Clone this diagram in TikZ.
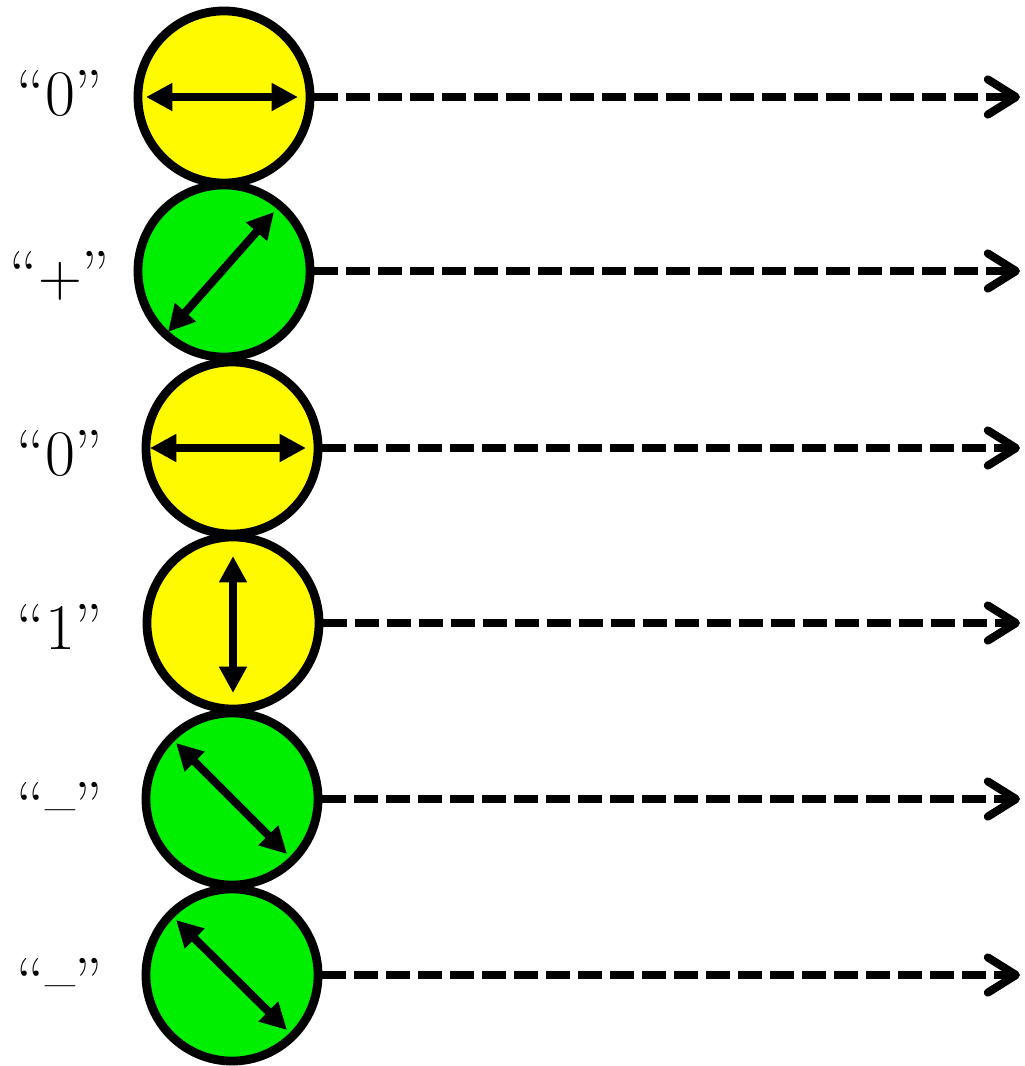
\documentclass[tikz,border=0pt]{standalone}
\usetikzlibrary{arrows.meta}
\definecolor{ballyellow}{RGB}{255,250,0}
\definecolor{ballgreen}{RGB}{0,238,0}
\begin{document}
\begin{tikzpicture}[
	x=0.01cm, y=-0.01cm,
	ball/.style={draw,circle,line width=2.5pt,minimum size=1.72cm,inner sep=0pt},
	lab/.style={anchor=base,inner sep=0pt,font=\fontsize{18.5}{22}\selectfont},
	pol/.style={line width=2.3pt,{Triangle[length=7.5pt,width=7.5pt]}-{Triangle[length=7.5pt,width=7.5pt]}},
	ray/.style={line width=2.2pt,dash pattern=on 6.6pt off 2.5pt,-{Straight Barb[length=8pt,width=10pt,line width=2.3pt,round]}}
	]
	\useasboundingbox (0,0) rectangle (1025,1066);
	\node[ball,fill=ballyellow]  (c1) at (224,97)  {};
	\node[ball,fill=ballgreen]  (c2) at (224,271)  {};
	\node[ball,fill=ballyellow]  (c3) at (232,448)  {};
	\node[ball,fill=ballyellow]  (c4) at (233,623)  {};
	\node[ball,fill=ballgreen]  (c5) at (232,799)  {};
	\node[ball,fill=ballgreen]  (c6) at (232,975)  {};
	\node[lab]  (l1) at (60,115)  {“0”};
	\node[lab]  (l2) at (60,296)  {“$+$”};
	\node[lab]  (l3) at (60,475)  {“0”};
	\node[lab]  (l4) at (60,649)  {“1”};
	\node[lab]  (l5) at (60,827)  {“–”};
	\node[lab]  (l6) at (60,1003)  {“–”};
	\coordinate  (e1) at (1020,97);
	\coordinate  (e2) at (1020,271);
	\coordinate  (e3) at (1020,448);
	\coordinate  (e4) at (1020,623);
	\coordinate  (e5) at (1020,799);
	\coordinate  (e6) at (1020,975);
	\path[draw,pol]  ([shift={(-78,0)}]c1.center) -- ([shift={(74,0)}]c1.center);
	\path[draw,pol]  ([shift={(-56,61)}]c2.center) -- ([shift={(50,-59)}]c2.center);
	\path[draw,pol]  ([shift={(-82,0)}]c3.center) -- ([shift={(74,0)}]c3.center);
	\path[draw,pol]  ([shift={(0,-67)}]c4.center) -- ([shift={(0,70)}]c4.center);
	\path[draw,pol]  ([shift={(-56,-56)}]c5.center) -- ([shift={(55,55)}]c5.center);
	\path[draw,pol]  ([shift={(-56,-55)}]c6.center) -- ([shift={(55,55)}]c6.center);
	\path[draw,ray]  (c1) -- (e1);
	\path[draw,ray]  (c2) -- (e2);
	\path[draw,ray]  (c3) -- (e3);
	\path[draw,ray]  (c4) -- (e4);
	\path[draw,ray]  (c5) -- (e5);
	\path[draw,ray]  (c6) -- (e6);
\end{tikzpicture}
\end{document}
